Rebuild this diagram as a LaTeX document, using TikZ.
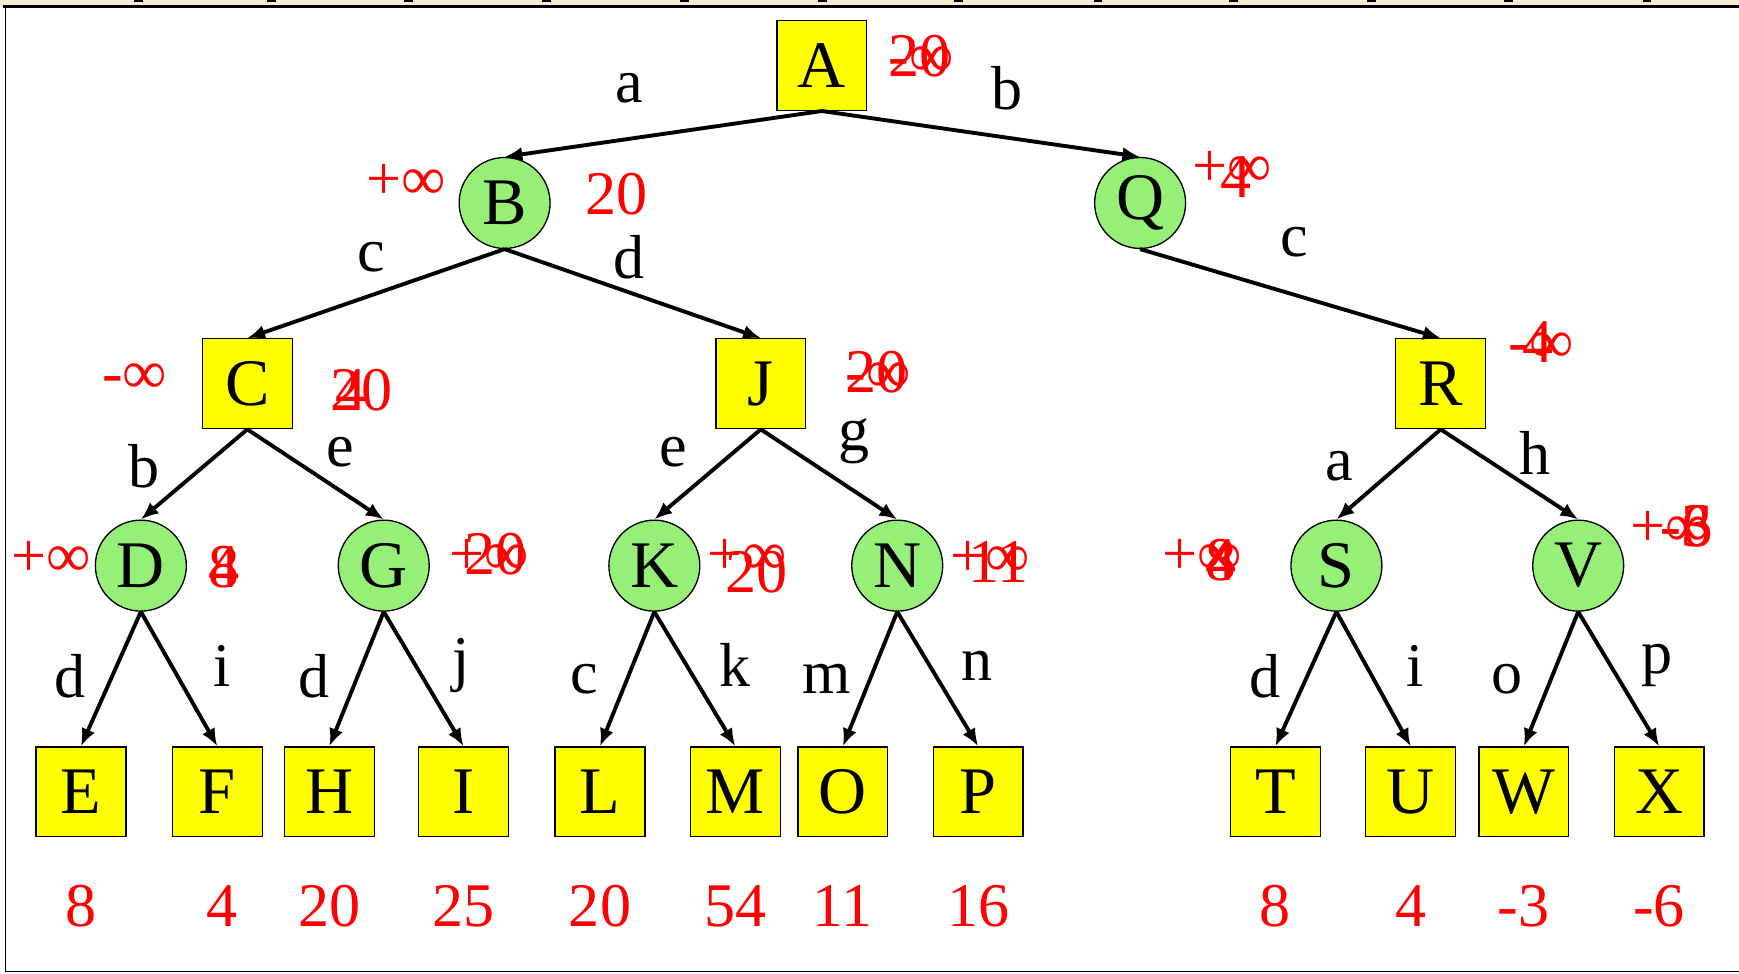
\documentclass[tikz,border=0pt]{standalone}
\usepackage{fontspec}
\setmainfont{Liberation Serif}
\usetikzlibrary{arrows.meta}
\definecolor{nodeyellow}{RGB}{255,255,0}
\definecolor{nodegreen}{RGB}{150,240,120}
\definecolor{slidebeige}{RGB}{250,236,212}
\begin{document}
\begin{tikzpicture}[x=1pt,y=-1pt,
  maxn/.style={draw=black, line width=1.2pt, fill=nodeyellow, minimum size=81pt, inner sep=0pt, font=\fontsize{60}{60}\selectfont},
  minn/.style={circle, draw=black, line width=1.2pt, fill=nodegreen, minimum size=82pt, inner sep=0pt, font=\fontsize{60}{60}\selectfont},
  edge/.style={line width=3.5pt, -{Latex[length=16pt,width=13pt]}},
  elab/.style={font=\fontsize{56}{56}\selectfont, inner sep=0pt},
  rlab/.style={text=red, font=\fontsize{56}{56}\selectfont, inner sep=0pt, anchor=base west},
  leafv/.style={text=red, font=\fontsize{56}{56}\selectfont, inner sep=0pt, anchor=base}]
\useasboundingbox (0,0) rectangle (1568,878);
\fill[white] (0,0) rectangle (1568,878);
% slide frame
\fill[slidebeige] (0,0) rectangle (1568,5);
\foreach \tx in {125,245,368,493,617,742,864,990,1112,1237,1360,1485}
  \fill[black] (\tx-4,0) rectangle (\tx+4,2);
\fill[black] (3,4.5) rectangle (1568,7);
\draw[line width=1.5pt] (5,6) -- (5,876) -- (1568,876);
% nodes
\node[maxn] (A) at (741,59) {A};
\node[minn] (B) at (455,183) {B};
\node[minn] (Q) at (1028,183) {Q};
\node[maxn] (C) at (223,346) {C};
\node[maxn] (J) at (686,346) {J};
\node[maxn] (R) at (1299,346) {R};
\node[minn] (D) at (127,510) {D};
\node[minn] (G) at (346,510) {G};
\node[minn] (K) at (590,510) {K};
\node[minn] (N) at (809,510) {N};
\node[minn] (S) at (1205,510) {S};
\node[minn] (V) at (1423,510) {V};
\node[maxn] (E) at (73,714) {E};
\node[maxn] (F) at (196,714) {F};
\node[maxn] (H) at (297,714) {H};
\node[maxn] (I) at (418,714) {I};
\node[maxn] (L) at (541,714) {L};
\node[maxn] (M) at (663,714) {M};
\node[maxn] (O) at (760,714) {O};
\node[maxn] (P) at (882,714) {P};
\node[maxn] (T) at (1150,714) {T};
\node[maxn] (U) at (1272,714) {U};
\node[maxn] (W) at (1374,714) {W};
\node[maxn] (X) at (1496,714) {X};
% edges
\draw[edge] (A.south) -- (B.north);
\draw[edge] (A.south) -- (Q.north);
\draw[edge] (B.south) -- (C.north);
\draw[edge] (B.south) -- (J.north);
\draw[edge] (Q.south) -- (R.north);
\draw[edge] (C.south) -- (D.north);
\draw[edge] (C.south) -- (G.north);
\draw[edge] (J.south) -- (K.north);
\draw[edge] (J.south) -- (N.north);
\draw[edge] (R.south) -- (S.north);
\draw[edge] (R.south) -- (V.north);
\draw[edge] (D.south) -- (E.north);
\draw[edge] (D.south) -- (F.north);
\draw[edge] (G.south) -- (H.north);
\draw[edge] (G.south) -- (I.north);
\draw[edge] (K.south) -- (L.north);
\draw[edge] (K.south) -- (M.north);
\draw[edge] (N.south) -- (O.north);
\draw[edge] (N.south) -- (P.north);
\draw[edge] (S.south) -- (T.north);
\draw[edge] (S.south) -- (U.north);
\draw[edge] (V.south) -- (W.north);
\draw[edge] (V.south) -- (X.north);
% edge labels
\node[elab] (eAB) at (567,80) {a};
\node[elab] (eAQ) at (908,80) {b};
\node[elab] (eBC) at (335,232) {c};
\node[elab] (eBJ) at (567,232) {d};
\node[elab] (eQR) at (1167,218) {c};
\node[elab] (eCD) at (130,420) {b};
\node[elab] (eCG) at (307,408) {e};
\node[elab] (eJK) at (607,408) {e};
\node[elab] (eJN) at (770,398) {g};
\node[elab] (eRS) at (1208,420) {a};
\node[elab] (eRV) at (1384,408) {h};
\node[elab] (eDE) at (63,610) {d};
\node[elab] (eDF) at (200,600) {i};
\node[elab] (eGH) at (283,610) {d};
\node[elab] (eGI) at (416,600) {j};
\node[elab] (eKL) at (527,612) {c};
\node[elab] (eKM) at (663,600) {k};
\node[elab] (eNO) at (745,612) {m};
\node[elab] (eNP) at (881,600) {n};
\node[elab] (eST) at (1141,610) {d};
\node[elab] (eSU) at (1276,600) {i};
\node[elab] (eVW) at (1359,612) {o};
\node[elab] (eVX) at (1494,600) {p};
% red values next to inner nodes
\node[rlab] (vA1) at (801,69) {-∞};
\node[rlab] (vA2) at (801,69) {20};
\node[rlab] (vB1) at (330,180) {+∞};
\node[rlab] (vB2) at (528,193) {20};
\node[rlab] (vQ1) at (1075,168) {+∞};
\node[rlab] (vQ2) at (1100,178) {4};
\node[rlab] (vC1) at (92,355) {-∞};
\node[rlab] (vC2) at (298,370) {20};
\node[rlab] (vC3) at (302,370) {4};
\node[rlab] (vJ1) at (762,354) {-∞};
\node[rlab] (vJ2) at (762,354) {20};
\node[rlab] (vR1) at (1360,327) {-∞};
\node[rlab] (vR2) at (1373,327) {4};
\node[rlab] (vD1) at (10,520) {+∞};
\node[rlab] (vD2) at (188,530) {8};
\node[rlab] (vD3) at (188,530) {4};
\node[rlab] (vG1) at (405,518) {+∞};
\node[rlab] (vG2) at (419,518) {20};
\node[rlab] (vK1) at (638,518) {+∞};
\node[rlab] (vK2) at (654,534) {20};
\node[rlab] (vN1) at (857,520) {+∞};
\node[rlab] (vN2) at (873,525) {11};
\node[rlab] (vS1) at (1048,518) {+∞};
\node[rlab] (vS2) at (1087,523) {8};
\node[rlab] (vS3) at (1087,523) {4};
\node[rlab] (vV1) at (1470,493) {+∞};
\node[rlab] (vV2) at (1497,493) {-3};
\node[rlab] (vV3) at (1497,493) {-6};
% leaf values
\node[leafv] (lE) at (73,835) {8};
\node[leafv] (lF) at (200,835) {4};
\node[leafv] (lH) at (297,835) {20};
\node[leafv] (lI) at (418,835) {25};
\node[leafv] (lL) at (541,835) {20};
\node[leafv] (lM) at (663,835) {54};
\node[leafv] (lO) at (760,835) {11};
\node[leafv] (lP) at (882,835) {16};
\node[leafv] (lT) at (1150,835) {8};
\node[leafv] (lU) at (1272,835) {4};
\node[leafv] (lW) at (1374,835) {-3};
\node[leafv] (lX) at (1496,835) {-6};
\end{tikzpicture}
\end{document}
